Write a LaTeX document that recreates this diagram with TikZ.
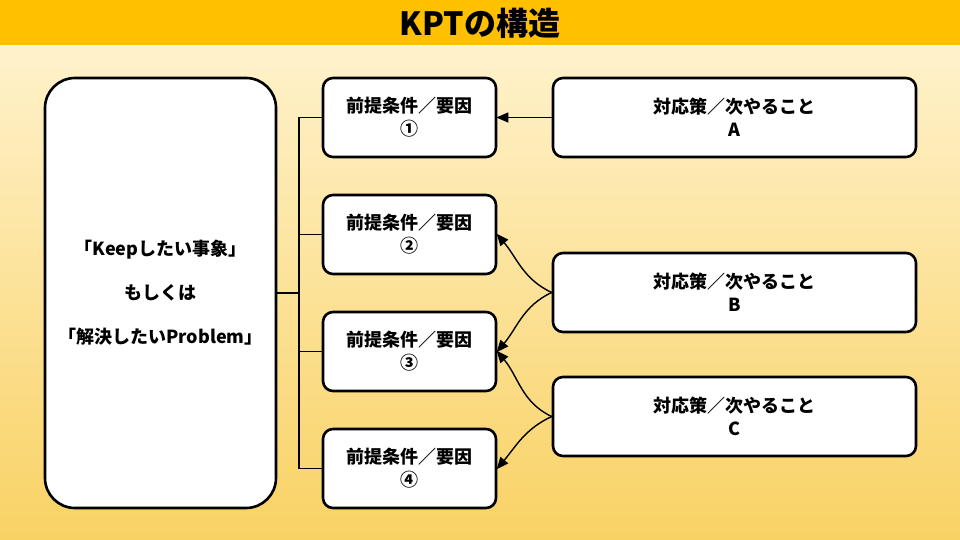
\documentclass[tikz,border=0pt]{standalone}
\usepackage{fontspec}
\setmainfont{Noto Sans CJK JP}
\usepackage{tikz}
\usetikzlibrary{arrows.meta}
\usetikzlibrary{positioning}

\definecolor{titlebar}{HTML}{FFC000}
\definecolor{bgtop}{HTML}{FFF2CC}
\definecolor{bgbottom}{HTML}{F9D264}

\tikzset{
  box/.style={draw=black, line width=2.6pt, fill=white, rounded corners=10pt,
    align=center, font=\fontsize{18}{23}\selectfont\bfseries, inner sep=0pt},
  causebox/.style={box, minimum width=173pt, minimum height=79pt},
  actionbox/.style={box, minimum width=363pt, minimum height=79pt},
  tree/.style={line width=1.4pt},
  link/.style={line width=1.4pt, -{Triangle[length=12pt,width=10pt]}, shorten >=-1pt},
}

\begin{document}
\begin{tikzpicture}[x=1pt, y=-1pt]
  \useasboundingbox (0,0) rectangle (960,540);
  % background and title
  \shade[top color=bgtop, bottom color=bgbottom] (0,45) rectangle (960,540);
  \fill[titlebar] (0,0) rectangle (960,45);
  \node (title) at (480,23) {\fontsize{32}{32}\selectfont\bfseries KPTの構造};

  % left box
  \node[box, rounded corners=30pt, minimum width=231pt, minimum height=430pt,
        font=\fontsize{18}{44}\selectfont\bfseries] (goal) at (160.5,293)
        {「Keepしたい事象」\\もしくは\\「解決したいProblem」};

  % causes
  \node[causebox] (K1) at (409.5,117.5) {前提条件／要因\\①};
  \node[causebox] (K2) at (409.5,234.5) {前提条件／要因\\②};
  \node[causebox] (K3) at (409.5,351.5) {前提条件／要因\\③};
  \node[causebox] (K4) at (409.5,468.5) {前提条件／要因\\④};

  % actions
  \node[actionbox] (TA) at (734.5,117.5) {対応策／次やること\\A};
  \node[actionbox] (TB) at (734.5,292.5) {対応策／次やること\\B};
  \node[actionbox] (TC) at (734.5,416.5) {対応策／次やること\\C};

  % tree
  \coordinate (fork) at (299,293);
  \draw[tree, line width=2pt] (goal.east) -- (fork);
  \draw[tree] (K1.west) -| (fork) |- (K4.west);
  \draw[tree] (K2.west) -- (K2.west -| fork);
  \draw[tree] (K3.west) -- (K3.west -| fork);

  % arrows
  \draw[link] (TA.west) -- (K1.east);
  \draw[link] (TB.west) to[out=155, in=-50] (K2.east);
  \draw[link] (TB.west) to[out=205, in=50] (K3.east);
  \draw[link] (TC.west) to[out=155, in=-50] (K3.east);
  \draw[link] (TC.west) to[out=205, in=50] (K4.east);
\end{tikzpicture}
\end{document}
